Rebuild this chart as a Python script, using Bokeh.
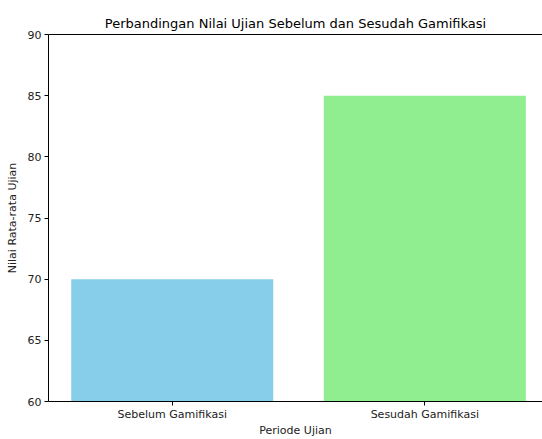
from bokeh.plotting import figure
from bokeh.models import Range1d, LinearAxis, FixedTicker, Title
from bokeh.embed import file_html
from bokeh.resources import INLINE

categories = ["Sebelum Gamifikasi", "Sesudah Gamifikasi"]
scores = [70, 85]
colors = ["#87CEEB", "#90EE90"]
y_ticks = [60, 65, 70, 75, 80, 85, 90]
xpos = list(range(len(categories)))

FONT = "DejaVu Sans"
TXT = "#222222"

p = figure(width=542, height=439, output_backend="svg", toolbar_location=None,
           x_range=Range1d(-0.49, 1.466), y_range=Range1d(60, 90),
           min_border_right=0, min_border_top=34, min_border_left=48, min_border_bottom=0)
p.title = None
p.outline_line_color = None
p.grid.visible = False
p.background_fill_color = "white"

p.vbar(x=xpos, top=scores, bottom=60, width=0.8, fill_color=colors, line_color=None)

xa = p.below[0]
xa.ticker = FixedTicker(ticks=xpos)
xa.major_label_overrides = {i: c for i, c in enumerate(categories)}
xa.axis_label = "Periode Ujian"
xa.axis_label_text_font = FONT
xa.axis_label_text_font_size = "11px"
xa.axis_label_text_font_style = "normal"
xa.axis_label_text_color = TXT
xa.axis_label_standoff = 0
xa.major_label_text_font = FONT
xa.major_label_text_font_size = "11px"
xa.major_label_text_color = TXT
xa.major_label_standoff = 2
xa.minor_tick_line_color = None
xa.major_tick_out = 4
xa.major_tick_in = 0
xa.axis_line_color = "black"

ya = p.left[0]
ya.ticker = FixedTicker(ticks=y_ticks)
ya.axis_label = "Nilai Rata-rata Ujian"
ya.axis_label_text_font = FONT
ya.axis_label_text_font_size = "11px"
ya.axis_label_text_font_style = "normal"
ya.axis_label_text_color = TXT
ya.axis_label_standoff = 6
ya.major_label_text_font = FONT
ya.major_label_text_font_size = "11px"
ya.major_label_text_color = TXT
ya.major_label_standoff = 3
ya.minor_tick_line_color = None
ya.major_tick_out = 4
ya.major_tick_in = 0
ya.axis_line_color = "black"

# top spine
top = LinearAxis(ticker=FixedTicker(ticks=[]), major_label_text_font_size="0px",
                 major_label_standoff=0, axis_line_color="black",
                 major_tick_line_color=None, minor_tick_line_color=None)
p.add_layout(top, "above")

t = Title(text="Perbandingan Nilai Ujian Sebelum dan Sesudah Gamifikasi", align="center",
          text_font=FONT, text_font_size="13px", text_font_style="normal",
          text_color="#000000", standoff=8, offset=-11)
p.add_layout(t, "above")

open("out.html", "w").write(file_html(p, INLINE))
